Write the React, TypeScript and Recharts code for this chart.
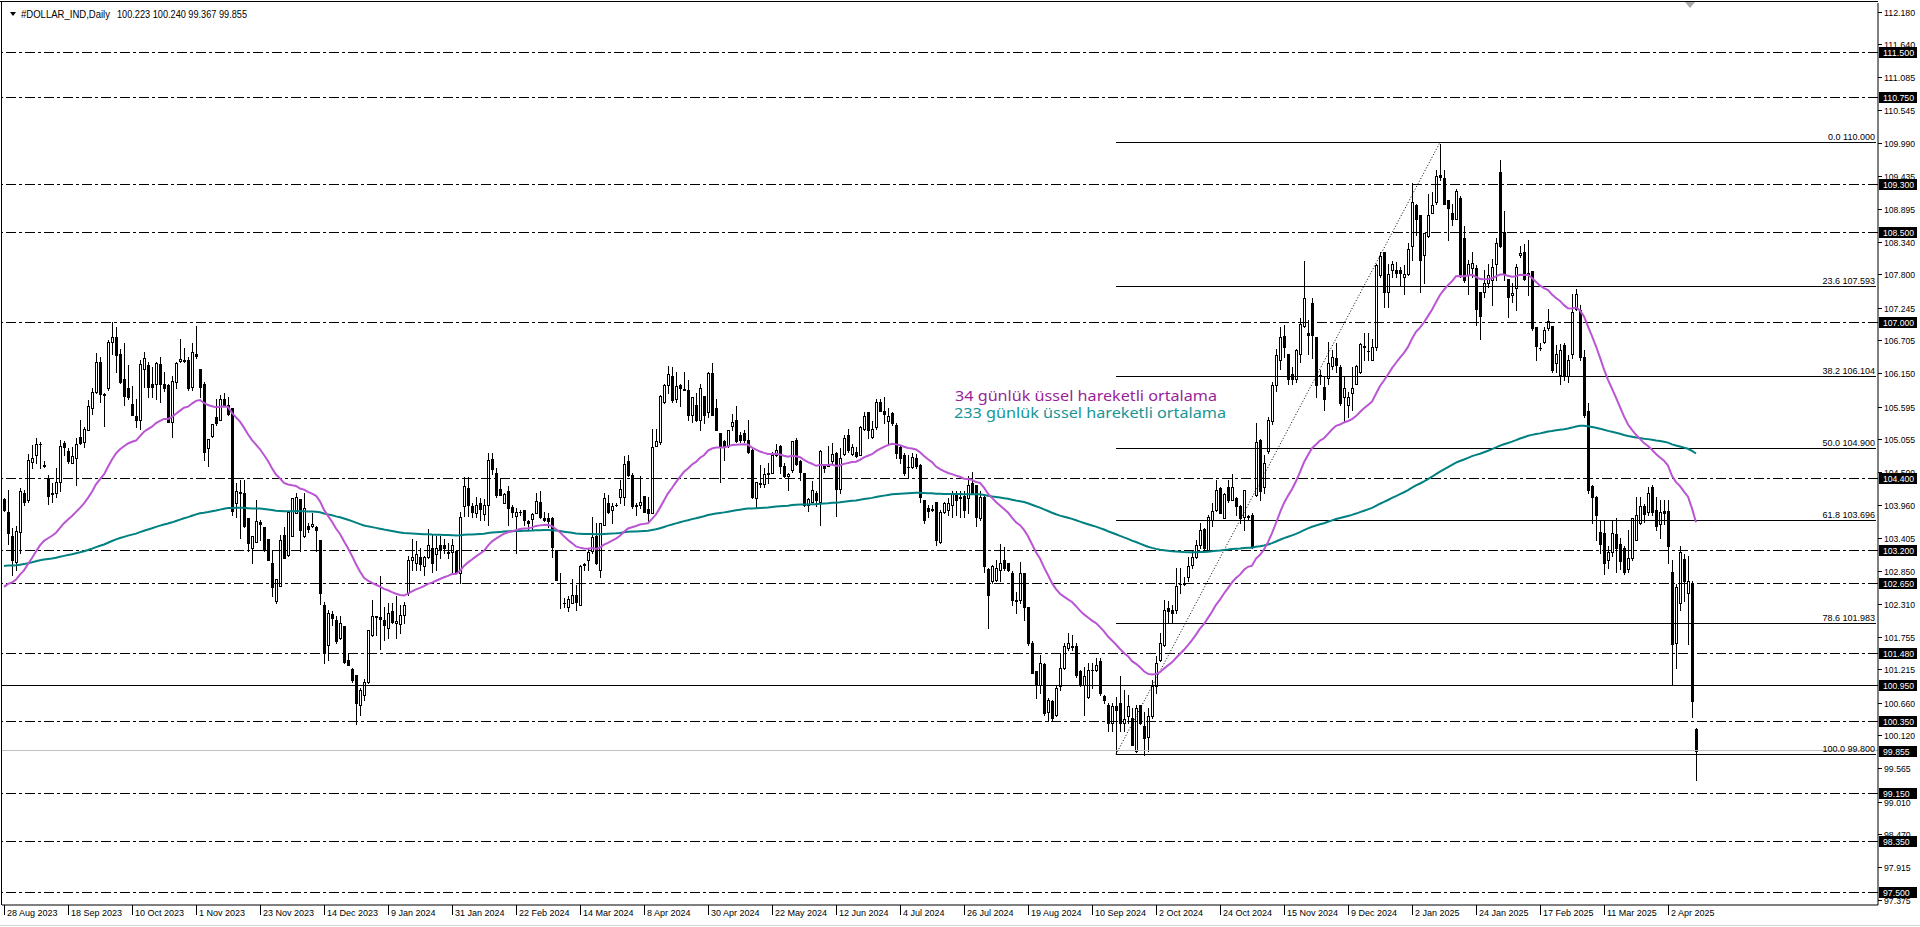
import React from 'react';
import { ComposedChart, Bar, Line, XAxis, YAxis, ReferenceLine } from 'recharts';

// ---------------- layout constants ----------------
const CHART_W = 1920;
const CHART_H = 927;
const AXIS_W = 42;
const XAXIS_H = 22;
const PLOT_LEFT = 2;
const PLOT_TOP = 3;
const PLOT_RIGHT = CHART_W - AXIS_W; // 1878
const PLOT_BOTTOM = CHART_H - XAXIS_H; // 905
const Y_MIN = 97.2883;
const Y_MAX = 112.3217;
const EMPTY_SLOTS = 45; // chart shift on the right
const LABEL_STEP = 16;
const AXIS_FONT = '"Liberation Sans", Arial, sans-serif';

// ---------------- data ----------------
const symbolName = '#DOLLAR_IND,Daily';
const symbolOHLC = '100.223 100.240 99.367 99.855';

const dateLabels = [
  '28 Aug 2023', '18 Sep 2023', '10 Oct 2023', '1 Nov 2023', '23 Nov 2023', '14 Dec 2023',
  '9 Jan 2024', '31 Jan 2024', '22 Feb 2024', '14 Mar 2024', '8 Apr 2024', '30 Apr 2024',
  '22 May 2024', '12 Jun 2024', '4 Jul 2024', '26 Jul 2024', '19 Aug 2024', '10 Sep 2024',
  '2 Oct 2024', '24 Oct 2024', '15 Nov 2024', '9 Dec 2024', '2 Jan 2025', '24 Jan 2025',
  '17 Feb 2025', '11 Mar 2025', '2 Apr 2025',
];

const opens = [
  104.05, 103.84, 103.44, 103.01, 103.51, 104.16, 104.04, 104.67, 104.78, 104.98,
  104.62, 104.4, 104.15, 104.15, 104.33, 104.99, 104.86, 104.65, 104.73, 105.09,
  105.01, 105.2, 105.58, 105.84, 106.34, 105.8, 105.9, 106.68, 106.75, 106.47,
  106.05, 105.9, 105.64, 105.44, 105.37, 106.23, 106.29, 105.98, 105.98, 106.3,
  105.97, 105.95, 105.34, 106.0, 106.36, 106.38, 106.38, 105.93, 106.48, 106.23,
  105.98, 104.91, 105.1, 105.42, 105.38, 105.73, 105.62, 105.57, 103.98, 104.17,
  104.16, 103.73, 103.23, 103.34, 103.67, 103.58, 103.38, 102.98, 102.35, 102.6,
  103.45, 103.12, 103.44, 103.82, 104.05, 103.43, 103.6, 103.6, 103.58, 103.37,
  102.29, 101.62, 102.14, 102.04, 101.73, 101.94, 101.37, 101.22, 101.12, 100.62,
  100.79, 101.01, 101.79, 102.1, 102.08, 102.04, 101.9, 102.18, 101.98, 101.97,
  102.12, 102.48, 103.03, 102.99, 103.08, 102.94, 103.08, 103.23, 103.14, 103.29,
  103.28, 103.17, 103.17, 103.18, 102.82, 103.93, 104.23, 103.93, 103.82, 103.98,
  103.81, 103.96, 104.72, 104.49, 104.22, 103.99, 104.19, 103.92, 103.77, 103.83,
  103.87, 103.69, 103.72, 103.82, 104.0, 103.73, 103.73, 103.73, 103.21, 102.65,
  102.32, 102.25, 102.32, 102.45, 102.29, 102.96, 103.03, 103.18, 103.44, 102.87,
  103.62, 103.98, 103.87, 103.96, 104.08, 104.09, 104.69, 104.46, 103.94, 103.95,
  104.1, 103.88, 103.82, 104.94, 105.01, 105.68, 105.96, 106.1, 105.73, 105.96,
  105.89, 105.88, 105.46, 105.62, 105.37, 105.77, 105.51, 106.15, 105.57, 105.15,
  105.03, 104.94, 105.27, 105.37, 105.12, 105.15, 105.04, 104.88, 104.07, 104.32,
  104.31, 104.47, 104.48, 104.79, 104.94, 104.61, 104.44, 104.54, 105.04, 104.68,
  104.48, 103.96, 104.01, 104.15, 104.01, 104.6, 104.6, 104.68, 104.82, 104.22,
  104.81, 105.12, 104.81, 104.84, 104.79, 105.23, 105.51, 105.09, 105.25, 105.68,
  105.53, 105.36, 105.49, 105.29, 104.93, 104.79, 104.58, 104.58, 104.73, 104.62,
  104.04, 103.9, 103.88, 104.01, 103.34, 103.83, 103.87, 103.96, 104.15, 104.07,
  104.11, 104.07, 104.32, 104.29, 103.73, 104.09, 102.88, 102.68, 102.71, 102.87,
  103.04, 102.98, 102.82, 102.37, 102.37, 102.82, 102.25, 101.65, 101.18, 100.96,
  101.31, 100.51, 100.68, 100.46, 100.93, 101.23, 101.57, 101.58, 101.6, 101.18,
  100.96, 100.76, 101.21, 101.2, 101.35, 100.77, 100.62, 100.32, 100.6, 100.66,
  100.32, 100.43, 100.4, 99.86, 100.62, 100.27, 100.09, 100.43, 100.93, 101.37,
  101.62, 102.23, 102.2, 102.21, 102.64, 102.66, 102.76, 102.96, 103.09, 103.29,
  103.55, 103.21, 103.71, 103.87, 104.23, 103.74, 104.25, 104.04, 104.07, 103.93,
  103.76, 103.77, 103.79, 104.12, 105.04, 104.26, 104.85, 105.35, 105.95, 106.37,
  106.77, 106.47, 106.14, 106.05, 106.48, 106.94, 106.82, 107.33, 106.75, 106.12,
  105.93, 106.07, 106.27, 106.4, 106.26, 105.76, 105.62, 105.82, 105.98, 106.18,
  106.59, 106.52, 106.38, 106.59, 107.79, 108.18, 107.51, 107.87, 107.88, 107.87,
  107.75, 107.8, 108.27, 108.95, 108.79, 108.12, 108.44, 108.83, 109.01, 109.45,
  109.4, 109.04, 108.82, 108.73, 109.07, 108.4, 107.79, 107.9, 107.9, 107.51,
  107.51, 107.66, 107.71, 107.98, 109.51, 108.51, 107.73, 107.45, 107.57, 108.13,
  108.18, 107.8, 107.85, 106.92, 106.58, 106.68, 106.9, 106.94, 106.32, 106.12,
  106.62, 106.1, 106.48, 107.23, 107.2, 106.42, 105.53, 104.27, 104.09, 103.5,
  103.48, 103.04, 103.17, 103.47, 103.3, 103.24, 102.89, 103.07, 103.37, 103.65,
  103.93, 103.83, 104.26, 103.87, 103.63, 103.86, 103.86, 102.84, 101.66, 102.32,
  103.06, 102.48, 102.65, 100.223,
];

const highs = [
  104.07, 104.2, 103.57, 103.6, 104.23, 104.2, 104.8, 104.95, 105.08, 105.01,
  104.68, 104.45, 104.32, 104.57, 105.04, 105.03, 104.9, 104.93, 105.07, 105.37,
  105.26, 105.7, 105.9, 106.49, 106.42, 105.82, 106.71, 107.0, 106.92, 106.55,
  106.66, 106.29, 105.94, 105.72, 106.37, 106.51, 106.34, 106.26, 106.34, 106.43,
  106.18, 105.98, 106.1, 106.34, 106.72, 106.57, 106.42, 106.65, 106.94, 106.23,
  106.01, 105.05, 105.31, 105.73, 105.79, 105.82, 105.76, 105.57, 104.32, 104.37,
  104.37, 103.73, 103.43, 104.04, 103.7, 103.58, 103.38, 103.18, 102.72, 103.46,
  103.59, 103.84, 104.07, 104.15, 104.05, 104.15, 103.66, 103.82, 103.6, 103.37,
  102.34, 102.2, 102.19, 102.11, 102.11, 101.94, 101.48, 101.23, 101.12, 100.9,
  101.05, 101.87, 102.37, 102.1, 102.77, 102.26, 102.32, 102.32, 102.43, 102.29,
  102.34, 103.11, 103.38, 103.36, 103.23, 103.1, 103.55, 103.46, 103.44, 103.43,
  103.38, 103.32, 103.38, 103.18, 103.83, 104.42, 104.42, 103.98, 104.09, 104.07,
  104.05, 104.82, 104.82, 104.57, 104.4, 104.15, 104.27, 103.96, 103.9, 103.87,
  103.87, 103.71, 103.82, 104.15, 104.18, 103.84, 103.82, 103.76, 103.21, 102.82,
  102.4, 102.44, 102.72, 102.62, 102.96, 102.98, 103.23, 103.75, 103.66, 103.65,
  104.15, 104.12, 103.98, 103.98, 104.37, 104.77, 104.79, 104.48, 103.98, 104.43,
  104.1, 104.09, 105.23, 105.23, 105.79, 105.98, 106.27, 106.26, 106.18, 105.98,
  106.18, 106.04, 105.76, 105.82, 105.98, 105.77, 106.18, 106.32, 105.73, 105.15,
  105.04, 105.21, 105.48, 105.6, 105.18, 105.21, 105.37, 104.93, 104.33, 104.62,
  104.57, 104.65, 104.84, 104.98, 104.96, 104.66, 104.49, 105.03, 105.07, 104.71,
  104.49, 104.07, 104.35, 104.18, 104.87, 104.6, 104.94, 104.99, 104.84, 104.9,
  105.12, 105.22, 104.98, 104.93, 105.27, 105.51, 105.51, 105.35, 105.72, 105.73,
  105.75, 105.57, 105.51, 105.32, 104.96, 104.82, 104.79, 104.82, 104.81, 104.64,
  104.04, 103.96, 103.96, 104.01, 103.87, 104.01, 104.07, 104.18, 104.18, 104.18,
  104.18, 104.43, 104.51, 104.29, 104.18, 104.12, 102.9, 102.96, 103.04, 103.31,
  103.26, 102.99, 102.85, 102.5, 103.01, 102.82, 102.26, 101.68, 101.18, 101.46,
  101.32, 100.73, 100.71, 100.93, 101.48, 101.65, 101.82, 101.79, 101.65, 101.21,
  101.26, 101.32, 101.32, 101.4, 101.4, 100.79, 100.65, 100.65, 100.76, 101.1,
  100.87, 100.79, 100.57, 100.62, 100.62, 100.51, 100.57, 101.04, 101.43, 101.82,
  102.37, 102.35, 102.29, 102.9, 102.9, 102.76, 103.09, 103.18, 103.37, 103.65,
  103.57, 103.79, 103.99, 104.37, 104.25, 104.15, 104.37, 104.47, 104.09, 103.96,
  104.21, 103.79, 103.82, 105.32, 105.05, 104.79, 105.43, 106.0, 106.55, 106.93,
  106.95, 106.48, 106.26, 106.55, 107.07, 108.03, 107.04, 107.4, 106.75, 106.2,
  106.09, 106.68, 106.54, 106.65, 106.29, 106.09, 105.84, 106.26, 106.29, 106.66,
  106.82, 106.82, 106.73, 107.98, 108.18, 108.18, 107.97, 108.03, 108.01, 107.93,
  107.95, 108.33, 109.32, 108.98, 108.79, 108.49, 109.14, 109.18, 109.54, 109.98,
  109.54, 109.04, 108.98, 109.22, 109.1, 108.6, 108.04, 108.18, 107.96, 107.51,
  107.87, 107.98, 108.05, 108.4, 109.71, 108.86, 107.73, 107.65, 107.98, 108.27,
  108.31, 108.37, 107.85, 106.93, 106.65, 106.93, 107.23, 106.94, 106.62, 106.64,
  106.66, 106.45, 107.48, 107.55, 107.29, 106.54, 105.66, 104.29, 104.1, 103.7,
  103.7, 103.27, 103.7, 103.73, 103.4, 103.27, 103.54, 103.73, 104.08, 104.08,
  103.97, 104.25, 104.28, 104.09, 104.03, 104.03, 104.03, 103.03, 102.64, 103.27,
  103.14, 103.1, 102.68, 100.24,
];

const lows = [
  103.85, 103.31, 102.79, 102.87, 103.15, 103.95, 104.01, 104.57, 104.65, 104.57,
  104.59, 103.97, 104.01, 104.09, 104.18, 104.79, 104.65, 104.65, 104.29, 104.98,
  104.93, 105.2, 105.48, 105.82, 105.68, 105.27, 105.87, 106.48, 106.18, 105.99,
  105.62, 105.72, 105.46, 105.25, 105.23, 105.93, 105.76, 105.75, 105.73, 105.68,
  105.85, 105.34, 105.09, 105.9, 106.34, 106.34, 105.88, 105.87, 106.4, 105.76,
  104.71, 104.61, 105.09, 105.29, 105.38, 105.6, 105.45, 103.79, 103.76, 103.4,
  103.59, 103.18, 102.98, 103.34, 103.37, 103.18, 103.04, 102.44, 102.32, 102.6,
  103.07, 103.1, 103.44, 103.82, 103.18, 103.42, 103.5, 103.59, 103.18, 102.31,
  101.32, 101.37, 101.96, 101.65, 101.72, 101.32, 101.29, 101.01, 100.3, 100.45,
  100.7, 100.98, 101.77, 101.79, 101.55, 101.71, 101.73, 101.98, 101.73, 101.82,
  101.98, 102.46, 102.87, 102.87, 102.87, 102.79, 103.07, 102.84, 102.87, 103.07,
  103.15, 103.07, 102.82, 102.82, 102.66, 103.77, 103.77, 103.76, 103.76, 103.71,
  103.71, 103.62, 104.47, 104.09, 104.12, 103.98, 103.62, 103.76, 103.15, 103.79,
  103.62, 103.54, 103.54, 103.82, 103.73, 103.68, 103.59, 103.09, 102.71, 102.23,
  102.26, 102.18, 102.32, 102.2, 102.29, 102.87, 102.87, 103.15, 102.97, 102.76,
  103.62, 103.82, 103.65, 103.94, 103.98, 103.96, 104.43, 103.9, 103.79, 103.9,
  103.84, 103.68, 103.82, 104.94, 104.98, 105.65, 105.82, 105.68, 105.68, 105.6,
  105.87, 105.38, 105.34, 105.35, 105.2, 105.32, 105.43, 105.46, 105.2, 104.34,
  104.7, 104.93, 105.2, 105.01, 105.01, 105.01, 104.82, 104.07, 103.9, 104.26,
  104.26, 104.32, 104.48, 104.77, 104.48, 104.42, 104.2, 104.51, 104.62, 104.37,
  103.93, 103.86, 104.0, 103.93, 103.62, 104.5, 104.6, 104.66, 103.77, 104.15,
  104.79, 104.84, 104.79, 104.76, 104.79, 105.2, 105.08, 105.07, 105.23, 105.53,
  105.32, 104.98, 105.29, 104.73, 104.65, 104.46, 104.42, 104.57, 104.57, 104.0,
  103.65, 103.76, 103.85, 103.29, 103.32, 103.82, 103.79, 103.76, 103.79, 103.76,
  103.76, 103.82, 104.15, 103.6, 103.71, 102.84, 101.9, 102.65, 102.68, 102.68,
  102.87, 102.86, 102.29, 102.15, 102.32, 102.04, 101.62, 101.15, 100.73, 100.82,
  100.46, 100.35, 100.35, 100.43, 100.87, 101.22, 101.54, 101.54, 101.09, 100.93,
  100.46, 100.73, 100.9, 101.18, 100.79, 100.65, 100.18, 100.18, 99.82, 100.18,
  100.18, 100.32, 99.96, 99.84, 100.3, 99.79, 99.85, 100.4, 100.82, 101.35,
  101.6, 101.98, 101.98, 102.15, 102.48, 102.62, 102.68, 102.9, 103.07, 103.24,
  103.21, 103.21, 103.6, 103.85, 103.82, 103.74, 104.01, 104.04, 103.79, 103.65,
  103.54, 103.71, 103.24, 104.1, 104.04, 104.15, 104.82, 105.3, 105.85, 106.23,
  106.43, 105.98, 105.98, 106.01, 106.34, 106.93, 106.48, 106.4, 105.76, 105.98,
  105.54, 105.98, 106.23, 106.18, 105.62, 105.35, 105.43, 105.54, 105.98, 106.15,
  106.37, 106.37, 106.37, 106.54, 107.76, 107.26, 107.26, 107.76, 107.76, 107.62,
  107.48, 107.79, 108.04, 108.46, 107.51, 107.65, 108.43, 108.82, 108.98, 109.37,
  108.97, 108.37, 108.62, 108.72, 107.76, 107.68, 107.48, 107.76, 106.96, 106.73,
  107.43, 107.59, 107.29, 107.71, 108.26, 107.71, 107.09, 107.34, 107.2, 108.09,
  107.71, 107.46, 106.87, 106.38, 106.54, 106.65, 106.87, 106.18, 106.18, 105.97,
  106.04, 106.01, 106.4, 107.2, 106.37, 105.42, 104.15, 103.65, 103.37, 103.15,
  102.81, 102.91, 103.1, 102.84, 102.88, 102.81, 102.84, 103.04, 103.37, 103.63,
  103.67, 103.79, 103.79, 103.53, 103.4, 103.63, 102.98, 100.95, 101.23, 102.2,
  102.36, 101.63, 100.42, 99.367,
];

const closes = [
  103.87, 103.48, 103.03, 103.52, 104.18, 104.01, 104.71, 104.73, 104.97, 104.97,
  104.6, 104.11, 104.13, 104.33, 104.94, 104.93, 104.68, 104.77, 104.98, 104.99,
  105.22, 105.6, 105.84, 106.34, 105.8, 105.79, 106.68, 106.75, 106.46, 106.01,
  105.77, 105.76, 105.46, 105.37, 106.31, 106.4, 105.93, 105.93, 106.32, 105.98,
  105.91, 105.34, 106.03, 106.33, 106.39, 106.36, 105.9, 106.5, 106.44, 105.93,
  104.84, 105.05, 105.3, 105.32, 105.72, 105.62, 105.48, 103.86, 104.19, 104.16,
  103.6, 103.32, 103.43, 103.69, 103.63, 103.2, 103.04, 102.58, 102.72, 103.37,
  103.07, 103.84, 104.07, 104.09, 103.54, 103.9, 103.56, 103.64, 103.54, 102.48,
  101.51, 102.15, 102.07, 101.68, 101.99, 101.33, 101.29, 101.04, 100.65, 100.87,
  101.01, 101.87, 102.1, 102.09, 102.05, 101.95, 102.16, 102.01, 102.02, 102.12,
  102.28, 103.04, 103.08, 103.13, 102.97, 103.08, 103.28, 102.98, 103.23, 103.2,
  103.23, 103.16, 103.29, 102.83, 103.76, 104.27, 103.96, 103.84, 103.96, 103.88,
  103.96, 104.71, 104.55, 104.12, 104.12, 104.14, 103.9, 103.83, 103.83, 103.83,
  103.71, 103.66, 103.81, 104.02, 103.76, 103.71, 103.68, 103.25, 102.71, 102.65,
  102.32, 102.38, 102.45, 102.34, 102.93, 102.97, 103.17, 103.42, 102.98, 103.65,
  104.07, 103.84, 103.94, 103.96, 104.22, 104.64, 104.46, 103.93, 103.95, 104.0,
  103.84, 103.82, 104.93, 105.03, 105.77, 105.96, 106.14, 105.71, 105.94, 105.9,
  105.88, 105.46, 105.76, 105.37, 105.9, 105.46, 106.16, 105.46, 105.2, 104.93,
  104.92, 105.21, 105.34, 105.03, 105.04, 105.04, 104.84, 104.09, 104.33, 104.31,
  104.47, 104.48, 104.79, 104.88, 104.61, 104.44, 104.47, 105.03, 104.64, 104.51,
  103.96, 104.05, 104.21, 104.04, 104.86, 104.57, 104.62, 104.81, 104.22, 104.73,
  105.08, 104.87, 104.93, 104.77, 105.25, 105.44, 105.2, 105.23, 105.68, 105.53,
  105.47, 105.44, 105.32, 104.82, 104.73, 104.48, 104.58, 104.75, 104.6, 104.09,
  103.71, 103.86, 103.87, 103.37, 103.84, 103.99, 103.98, 104.15, 104.04, 104.09,
  103.87, 104.29, 104.16, 103.76, 104.08, 102.93, 102.46, 102.93, 102.9, 102.98,
  102.9, 102.87, 102.37, 102.35, 102.82, 102.26, 101.65, 101.15, 100.96, 101.32,
  100.48, 100.71, 100.4, 100.9, 101.23, 101.61, 101.65, 101.6, 101.12, 100.96,
  101.11, 101.2, 101.2, 101.29, 100.82, 100.7, 100.32, 100.6, 100.53, 100.32,
  100.38, 100.6, 99.96, 100.57, 100.32, 100.07, 100.43, 100.93, 101.32, 101.65,
  102.21, 102.18, 102.15, 102.6, 102.64, 102.64, 102.93, 103.08, 103.29, 103.54,
  103.24, 103.76, 103.85, 104.21, 103.82, 104.14, 104.04, 104.25, 103.93, 103.74,
  104.2, 103.75, 103.26, 105.01, 104.18, 104.65, 105.37, 105.95, 106.45, 106.75,
  106.59, 106.05, 106.05, 106.54, 106.98, 107.4, 106.79, 106.79, 105.96, 106.1,
  105.72, 106.33, 106.42, 106.29, 105.65, 105.9, 105.76, 105.9, 106.27, 106.64,
  106.6, 106.53, 106.59, 107.96, 108.1, 107.51, 107.8, 107.97, 107.82, 107.82,
  107.8, 108.22, 109.01, 108.72, 108.04, 108.49, 108.79, 108.95, 109.44, 109.43,
  108.98, 108.9, 108.72, 109.19, 107.8, 107.7, 107.98, 107.99, 107.22, 107.1,
  107.66, 107.79, 107.93, 108.32, 108.27, 107.8, 107.43, 107.49, 107.92, 108.16,
  107.73, 107.82, 106.9, 106.61, 106.58, 106.88, 107.03, 106.2, 106.48, 106.54,
  106.12, 106.37, 107.18, 107.48, 106.43, 105.46, 104.2, 104.09, 103.79, 103.3,
  102.98, 103.17, 103.48, 103.24, 103.02, 102.84, 103.07, 103.73, 103.79, 103.94,
  103.81, 104.15, 103.83, 103.61, 103.83, 103.82, 103.27, 101.63, 102.58, 103.17,
  102.68, 102.68, 100.68, 99.855,
];

// Moving-average start values
const ema34Start = 102.59;
const ema233Start = 102.94;

// Price axis labels
const axisTickValues = [
  112.18, 111.64, 111.085, 110.545, 109.99, 109.435, 108.895, 108.34, 107.8, 107.245,
  106.705, 106.15, 105.595, 105.055, 104.5, 103.96, 103.405, 102.85, 102.31, 101.755,
  101.215, 100.66, 100.12, 99.565, 99.01, 98.47, 97.915, 97.375,
];
// Horizontal dash-dot levels
const dashLevels = [111.5, 110.75, 109.3, 108.5, 107.0, 104.4, 103.2, 102.65, 101.48, 100.35, 99.15, 98.35, 97.5];
const solidLevel = 100.95;
const lastPrice = 99.855;
const highlightedLevels = [...dashLevels, solidLevel, lastPrice];

// Fibonacci retracement
const fibStartBar = 278;
const fibHighBar = 359;
const fibLow = 99.8;
const fibHigh = 110.0;
const fibPercents = ['0.0', '23.6', '38.2', '50.0', '61.8', '78.6', '100.0'];
const fibValues = [110.0, 107.593, 106.104, 104.9, 103.696, 101.983, 99.8];

const legend34 = '34 günlük üssel hareketli ortalama';
const legend233 = '233 günlük üssel hareketli ortalama';

// ---------------- build chart table ----------------
type Row = {
  idx: number;
  o?: number; h?: number; l?: number; c?: number;
  range: [number, number] | null;
  ema34: number | null;
  ema233: number | null;
};

const buildData = (): Row[] => {
  const rows: Row[] = [];
  let e34 = ema34Start;
  let e233 = ema233Start;
  for (let i = 0; i < closes.length; i++) {
    const c = closes[i];
    const o = opens[i];
    if (i > 0) {
      e34 += (2 / 35) * (c - e34);
      e233 += (2 / 234) * (c - e233);
    }
    const h = Math.max(highs[i], o, c);
    const l = Math.min(lows[i], o, c);
    rows.push({ idx: i, o, h, l, c, range: [l, h], ema34: e34, ema233: e233 });
  }
  for (let k = 0; k < EMPTY_SLOTS; k++) {
    rows.push({ idx: closes.length + k, range: null, ema34: null, ema233: null });
  }
  return rows;
};

const data = buildData();
const lastIdx = data.length - 1;

// ---------------- renderers ----------------
const Candle = (props: any) => {
  const { x, y, width, height, payload } = props;
  if (!payload || payload.o == null) return <g />;
  const { o, h, l, c } = payload;
  const top = Math.min(y, y + height);
  const bot = Math.max(y, y + height);
  const span = h - l || 1e-6;
  const py = (v: number) => top + ((h - v) / span) * (bot - top);
  const cx = Math.floor(x + width / 2) + 0.5;
  const yh = Math.round(py(h));
  const yl = Math.round(py(l));
  const yo = Math.round(py(o));
  const yc = Math.round(py(c));
  const bTop = Math.min(yo, yc);
  const bBot = Math.max(yo, yc);
  const bull = c >= o;
  return (
    <g shapeRendering="crispEdges">
      <rect x={cx - 0.5} y={yh} width={1} height={Math.max(1, yl - yh + 1)} fill="#000" />
      {bBot - bTop < 1 ? (
        <rect x={cx - 1.5} y={bTop} width={3} height={1} fill="#000" />
      ) : bull ? (
        <rect x={cx - 1} y={bTop + 0.5} width={2} height={bBot - bTop} fill="#fff" stroke="#000" strokeWidth={1} />
      ) : (
        <rect x={cx - 1.5} y={bTop} width={3} height={bBot - bTop + 1} fill="#000" />
      )}
    </g>
  );
};

const XTick = (props: any) => {
  const { x, payload } = props;
  const v = payload?.value;
  if (typeof v !== 'number' || v % LABEL_STEP !== 0) return <g />;
  const k = v / LABEL_STEP;
  if (k >= dateLabels.length) return <g />;
  const px = Math.round(x) + 0.5;
  return (
    <g>
      <line x1={px} x2={px} y1={PLOT_BOTTOM} y2={PLOT_BOTTOM + 10} stroke="#000" strokeWidth={1} shapeRendering="crispEdges" />
      <text x={px + 2.5} y={PLOT_BOTTOM + 11} fontSize={9} fontFamily={AXIS_FONT} fill="#000">
        {dateLabels[k]}
      </text>
    </g>
  );
};

const YTick = (props: any) => {
  const { y, payload } = props;
  const v = payload?.value as number;
  const label = v.toFixed(3);
  const yy = Math.round(y);
  if (highlightedLevels.includes(v)) {
    return (
      <g>
        <rect x={PLOT_RIGHT + 1} y={yy - 5} width={38} height={11} fill="#000" shapeRendering="crispEdges" />
        <text x={PLOT_RIGHT + 5} y={yy + 3.5} fontSize={9} fontFamily={AXIS_FONT} fill="#fff"
          textLength={label.length * 4.45} lengthAdjust="spacingAndGlyphs">{label}</text>
      </g>
    );
  }
  return (
    <g>
      <line x1={PLOT_RIGHT} x2={PLOT_RIGHT + 4} y1={yy + 0.5} y2={yy + 0.5} stroke="#000" shapeRendering="crispEdges" />
      <text x={PLOT_RIGHT + 6} y={yy + 3.5} fontSize={9} fontFamily={AXIS_FONT} fill="#000"
        textLength={label.length * 4.45} lengthAdjust="spacingAndGlyphs">{label}</text>
    </g>
  );
};

const FibLabel = (props: any) => {
  const { viewBox, text } = props;
  if (!viewBox) return null;
  const right = viewBox.x + viewBox.width;
  return (
    <text x={right - 1} y={viewBox.y - 2.5} textAnchor="end" fontSize={9} fontFamily={AXIS_FONT} fill="#000">
      {text}
    </text>
  );
};

// ---------------- component ----------------
export default function App() {
  return (
    <div style={{ position: 'absolute', left: 0, top: 0, width: CHART_W, height: CHART_H, background: '#fff' }}>
      <ComposedChart
        width={CHART_W}
        height={CHART_H}
        data={data}
        margin={{ top: PLOT_TOP, right: 0, bottom: 0, left: PLOT_LEFT }}
        barCategoryGap={0}
      >
        <XAxis
          dataKey="idx"
          type="category"
          height={XAXIS_H}
          interval={LABEL_STEP - 1}
          tick={<XTick />}
          tickLine={false}
          axisLine={{ stroke: '#000', strokeWidth: 1 }}
        />
        <YAxis
          yAxisId={0}
          orientation="right"
          type="number"
          width={AXIS_W}
          domain={[Y_MIN, Y_MAX]}
          allowDataOverflow
          ticks={[...axisTickValues, ...highlightedLevels]}
          interval={0}
          tick={<YTick />}
          tickLine={false}
          axisLine={{ stroke: '#000', strokeWidth: 1 }}
        />

        {dashLevels.map((v) => (
          <ReferenceLine key={'d' + v} y={v} stroke="#000" strokeWidth={1} strokeDasharray="10 3 3 3" shapeRendering="crispEdges" />
        ))}
        <ReferenceLine y={solidLevel} stroke="#000" strokeWidth={1} shapeRendering="crispEdges" />
        <ReferenceLine y={lastPrice} stroke="#c0c0c0" strokeWidth={1} shapeRendering="crispEdges" />

        {fibValues.map((v, k) => (
          <ReferenceLine
            key={'f' + k}
            segment={[{ x: fibStartBar, y: v }, { x: lastIdx, y: v }]}
            stroke="#000"
            strokeWidth={1}
            shapeRendering="crispEdges"
            label={<FibLabel text={`${fibPercents[k]} ${v.toFixed(3)}`} />}
          />
        ))}
        <ReferenceLine
          segment={[{ x: fibStartBar, y: fibLow }, { x: fibHighBar, y: fibHigh }]}
          stroke="#000"
          strokeWidth={1}
          strokeDasharray="1 2"
        />

        <Bar dataKey="range" barSize={3} shape={<Candle />} isAnimationActive={false} />
        <Line dataKey="ema233" stroke="#008080" strokeWidth={2} dot={false} activeDot={false} isAnimationActive={false} type="linear" />
        <Line dataKey="ema34" stroke="#ba55d3" strokeWidth={2} dot={false} activeDot={false} isAnimationActive={false} type="linear" />
      </ComposedChart>

      <svg width={CHART_W} height={CHART_H} style={{ position: 'absolute', left: 0, top: 0, pointerEvents: 'none' }}>
        <line x1={0} x2={PLOT_RIGHT} y1={1.5} y2={1.5} stroke="#000" shapeRendering="crispEdges" />
        <line x1={1.5} x2={1.5} y1={1} y2={PLOT_BOTTOM} stroke="#000" shapeRendering="crispEdges" />
        <line x1={0} x2={CHART_W} y1={925.5} y2={925.5} stroke="#d8d8d8" shapeRendering="crispEdges" />
        <polygon points="10,12 16,12 13,16" fill="#000" />
        <text x={21} y={17.5} fontSize={11} fontFamily={AXIS_FONT} fill="#000"
          textLength={89} lengthAdjust="spacingAndGlyphs">{symbolName}</text>
        <text x={117} y={17.5} fontSize={11} fontFamily={AXIS_FONT} fill="#000"
          textLength={130} lengthAdjust="spacingAndGlyphs">{symbolOHLC}</text>
        <polygon points="1685,2 1695,2 1690,8" fill="#a8a8a8" />
        <text x={955} y={401} fontSize={14.5} fontFamily='"Noto Sans", sans-serif' fill="#991f99"
          textLength={262} lengthAdjust="spacingAndGlyphs">{legend34}</text>
        <text x={954} y={417.5} fontSize={14.5} fontFamily='"Noto Sans", sans-serif' fill="#179696"
          textLength={272} lengthAdjust="spacingAndGlyphs">{legend233}</text>
      </svg>
    </div>
  );
}
